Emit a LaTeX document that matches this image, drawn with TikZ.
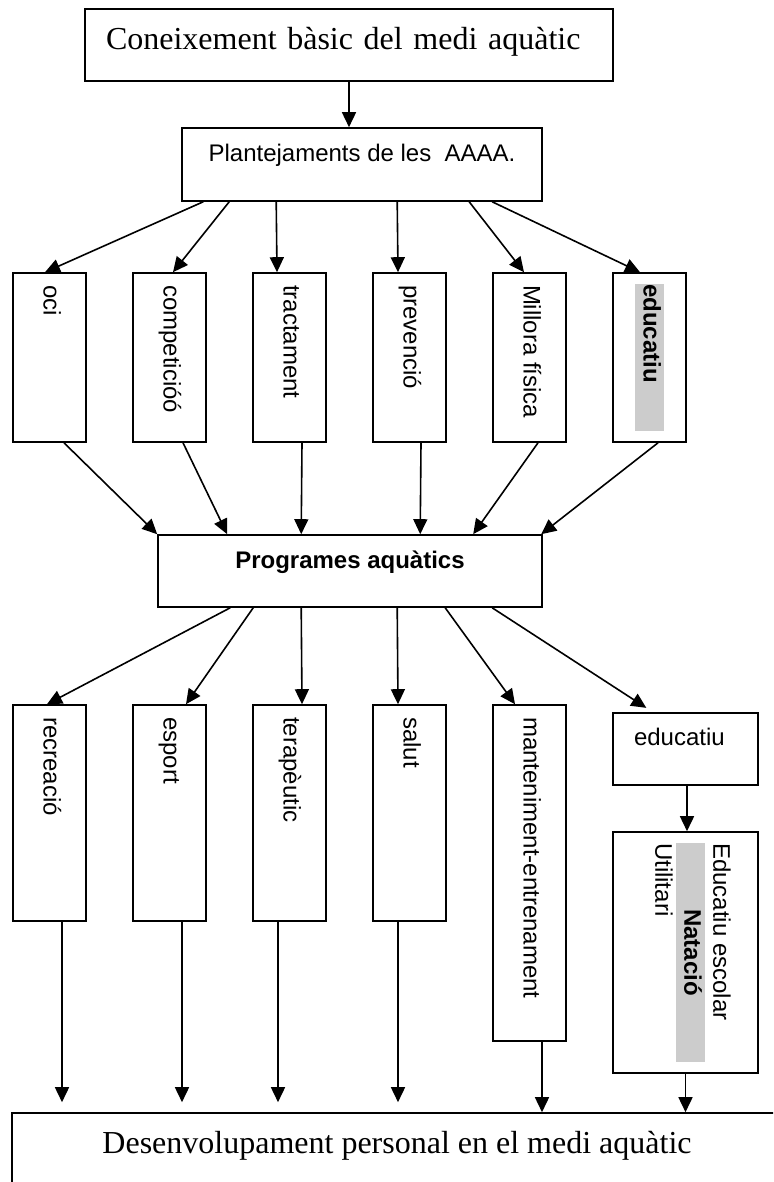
\documentclass[tikz,border=0pt]{standalone}
\usepackage{fontspec}
\usepackage{graphicx}
\usepackage{xcolor}
\setmainfont{Liberation Serif}
\setsansfont{Liberation Sans}
\usetikzlibrary{arrows.meta}
\definecolor{shade}{RGB}{204,204,204}
\newcommand{\sanstext}{\sffamily\fontsize{24}{29}\selectfont}
\newcommand{\serifbig}{\rmfamily\fontsize{32}{38}\selectfont}
\newcommand{\vtext}[2]{\rotatebox{-90}{\parbox{#1}{\raggedright\strut #2}}}
\newcommand{\hlbar}[3]{{\setlength{\fboxsep}{0pt}\colorbox{shade}{\makebox[#1][#2]{\strut #3}}}}

\begin{document}
\begin{tikzpicture}[x=1pt,y=-1pt,font=\sanstext,
    box/.style={draw,line width=1.6pt,inner sep=0pt,font=\sanstext},
    tallbox/.style={box,minimum width=73pt},
    flow/.style={line width=1.6pt,-{Triangle[length=15pt,width=14pt]}}]

  \useasboundingbox (0,0) rectangle (773,1182);
  \clip (0,0) rectangle (773,1182);

  % Starting point
  \node[box,font=\serifbig,text width=486pt,inner xsep=21pt,minimum height=72pt,
        text height=22pt,text depth=12pt,align=left] (coneix) at (349,45) {Coneixement bàsic del medi aquàtic};
  \node[box,minimum width=360pt,minimum height=73pt,text height=18pt,text depth=23pt] (plant) at (362,164.5) {Plantejaments de les\ \ AAAA.};
  \draw[flow] (coneix.south) -- (coneix.south |- plant.north);

  % Approaches
  \foreach \name/\i/\txt in {oci/0/oci,compet/1/competicióó,tract/2/tractament,prev/3/prevenció,millora/4/Millora física}
    \node[tallbox,minimum height=169pt] (\name) at (49.5+120*\i,357.5) {\vtext{145pt}{\txt}};
  \node[tallbox,minimum height=169pt] (educ) at (649.5,357.5) {\vtext{147pt}{\hlbar{147pt}{l}{\bfseries educatiu}}};

  \foreach \dx/\dst/\ex in {22/oci/-4.5,48/compet/3.5,95/tract/-12.5,216/prev/-11.5,288/millora/-5.5,311/educ/-9.5}
    \draw[flow] ([xshift=\dx pt]plant.south west) -- ([xshift=\ex pt]\dst.north);

  % Programs
  \node[box,font=\sanstext\bfseries,minimum width=384pt,minimum height=72pt,text height=18pt,text depth=24pt] (prog) at (350,571) {Programes aquàtics};

  \foreach \ex/\src/\dx in {14.5/oci/0,13.5/compet/70,12.5/tract/144,11.5/prev/263,8.5/millora/316,8.5/educ/384}
    \draw[flow] ([xshift=\ex pt]\src.south) -- ([xshift=\dx pt]prog.north west);

  % Kinds of program
  \foreach \name/\i/\txt in {recre/0/recreació,esport/1/esport,terap/2/terapèutic,salut/3/salut}
    \node[tallbox,minimum height=216pt] (\name) at (49.5+120*\i,813) {\vtext{192pt}{\txt}};
  \node[tallbox,minimum height=336pt] (mant) at (529.5,873) {\vtext{312pt}{manteniment-entrenament}};
  \node[box,minimum width=145pt,minimum height=72pt,text width=103pt,inner xsep=21pt,align=left,
        text height=18pt,text depth=26pt] (edu) at (685.5,749) {educatiu};
  \node[box,minimum width=145pt,minimum height=241pt] (nat) at (685.5,952.5)
    {\vtext{219pt}{Educatiu escolar\\\hlbar{219pt}{c}{\bfseries Natació}\\Utilitari\par\vspace{18pt}}};

  \foreach \dx/\dst/\ex in {73/recre/-2.5,96/esport/16.5,144/terap/12.5,240/salut/-11.5,288/mant/-14.5}
    \draw[flow] ([xshift=\dx pt]prog.south west) -- ([xshift=\ex pt]\dst.north);
  \draw[flow,shorten >=8pt] ([xshift=335pt]prog.south west) -- ([xshift=-32.5pt]edu.north);
  \draw[flow] ([xshift=1.5pt]edu.south) -- ([xshift=1.5pt]nat.north);

  % Outcome
  \node[box,font=\serifbig,minimum width=770pt,minimum height=80pt,text height=22pt,text depth=22pt] (dev) at (397,1153) {Desenvolupament personal en el medi aquàtic};

  \foreach \src/\ex in {recre/12.5,esport/12.5,terap/-11.5,salut/-11.5}
    \draw[flow,shorten >=10pt] ([xshift=\ex pt]\src.south) -- ([xshift=\ex pt]\src.south |- dev.north);
  \foreach \src/\ex in {mant/12.5,nat/0}
    \draw[flow] ([xshift=\ex pt]\src.south) -- ([xshift=\ex pt]\src.south |- dev.north);

\end{tikzpicture}
\end{document}
